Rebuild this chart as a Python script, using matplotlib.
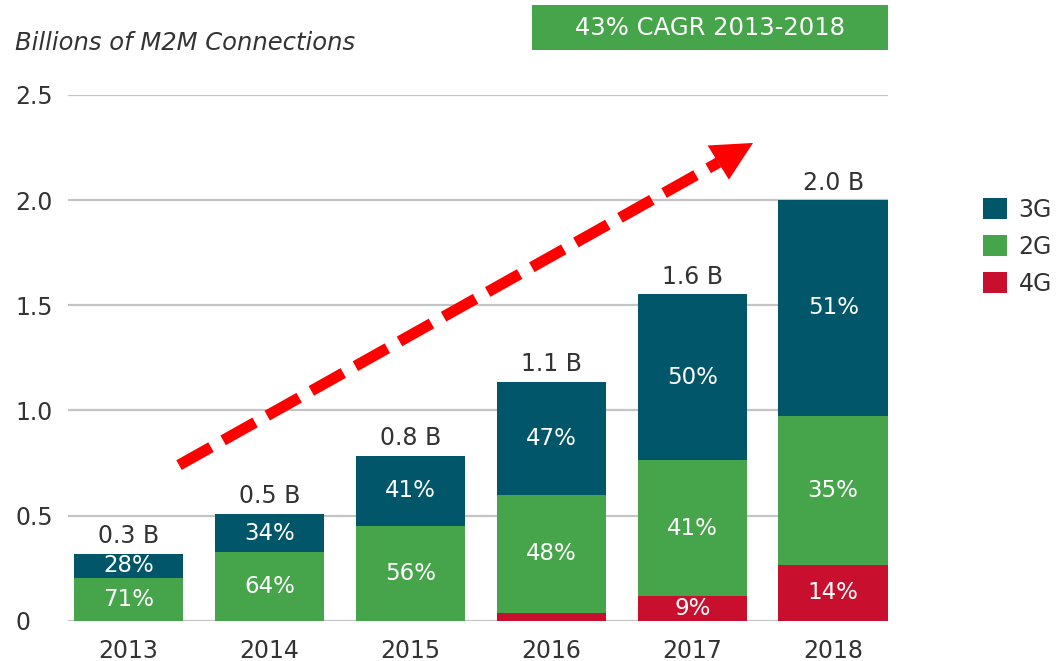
import matplotlib
matplotlib.use("Agg")
import matplotlib.pyplot as plt
from matplotlib.patches import Rectangle, Polygon
import numpy as np

plt.rcParams['font.family'] = ['DejaVu Sans']

years = ["2013", "2014", "2015", "2016", "2017", "2018"]
g4 = [0.0, 0.0, 0.0, 0.038, 0.119, 0.264]
g2 = [0.205, 0.326, 0.451, 0.562, 0.643, 0.711]
g3 = [0.113, 0.182, 0.333, 0.537, 0.790, 1.025]
totals_lbl = ["0.3 B", "0.5 B", "0.8 B", "1.1 B", "1.6 B", "2.0 B"]
pct_3g = ["28%", "34%", "41%", "47%", "50%", "51%"]
pct_2g = ["71%", "64%", "56%", "48%", "41%", "35%"]
pct_4g = ["", "", "", "", "9%", "14%"]
yticks = [0, 0.5, 1.0, 1.5, 2.0, 2.5]
ytick_lbl = ["0", "0.5", "1.0", "1.5", "2.0", "2.5"]

C3 = "#02566a"
C2 = "#46a44a"
C4 = "#c8102e"
TXT = "#333333"

W, H = 1063, 661
fig = plt.figure(figsize=(W / 100, H / 100), dpi=100)
ax = fig.add_axes([68 / W, 1 - 620.7 / H, 820 / W, 525.7 / H])

x = np.arange(len(years))
bw = 0.777
g4a = np.array(g4); g2a = np.array(g2); g3a = np.array(g3)
ax.bar(x, g4a, bw, color=C4, zorder=3, label="4G")
ax.bar(x, g2a, bw, bottom=g4a, color=C2, zorder=3, label="2G")
ax.bar(x, g3a, bw, bottom=g4a + g2a, color=C3, zorder=3, label="3G")

tot = g4a + g2a + g3a
fs = 17
for i in range(len(years)):
    ax.annotate(totals_lbl[i], (x[i], tot[i]), xytext=(0, 7.5), textcoords="offset points",
                ha="center", va="baseline", fontsize=fs, color=TXT)
    ax.text(x[i], g4a[i] + g2a[i] + g3a[i] / 2, pct_3g[i], ha="center", va="center",
            fontsize=fs - 0.5, color="white", zorder=4)
    ax.text(x[i], g4a[i] + g2a[i] / 2, pct_2g[i], ha="center", va="center",
            fontsize=fs - 0.5, color="white", zorder=4)
    if pct_4g[i]:
        ax.text(x[i], g4a[i] / 2, pct_4g[i], ha="center", va="center",
                fontsize=fs - 0.5, color="white", zorder=4)

ax.set_xlim(-0.429, 5.3885)
ax.set_ylim(0, 2.5)
ax.set_yticks(yticks)
ax.set_yticklabels(ytick_lbl)
ax.set_xticks(x)
ax.set_xticklabels(years)
ax.yaxis.grid(True, color="#c4c4c4", linewidth=1.6, zorder=0)
ax.set_axisbelow(True)
for s in ax.spines.values():
    s.set_visible(False)
ax.tick_params(axis="both", length=0, labelsize=fs, colors=TXT)
ax.tick_params(axis="y", pad=38)
for t in ax.get_yticklabels():
    t.set_horizontalalignment("left")
ax.tick_params(axis="x", pad=13)

# legend
h, l = ax.get_legend_handles_labels()
order = [2, 1, 0]
leg = fig.legend([h[k] for k in order], [l[k] for k in order], loc="upper left",
                 bbox_to_anchor=(983 / W, 1 - 198 / H), frameon=False, fontsize=fs,
                 handlelength=1.0, handleheight=1.0, labelspacing=0.55,
                 handletextpad=0.5, borderpad=0, borderaxespad=0)
for t in leg.get_texts():
    t.set_color(TXT)

# title
fig.text(15 / W, 1 - 50 / H, "Billions of M2M Connections", fontsize=fs + 0.5, style="italic",
         color=TXT, ha="left", va="baseline")

# CAGR box
fig.patches.append(Rectangle((532 / W, 1 - 50 / H), 356 / W, 45 / H, transform=fig.transFigure,
                             facecolor="#46a44a", edgecolor="none"))
fig.text(710 / W, 1 - 28 / H, "43% CAGR 2013-2018", fontsize=fs + 0.5, color="white",
         ha="center", va="center")

# dashed growth arrow
ax.plot([0.1354, 0.7933], [0.296, 0.8716], transform=ax.transAxes, color="#ff0000",
        linewidth=8.0, linestyle=(0, (3.3, 1.25)), solid_capstyle="butt",
        dash_capstyle="butt", clip_on=False, zorder=5)
ax.add_patch(Polygon([(0.8354, 0.9088), (0.7800, 0.9040), (0.8060, 0.8390)],
                     closed=True, transform=ax.transAxes, facecolor="#ff0000",
                     edgecolor="none", clip_on=False, zorder=5))

fig.savefig("out.png", dpi=100)
